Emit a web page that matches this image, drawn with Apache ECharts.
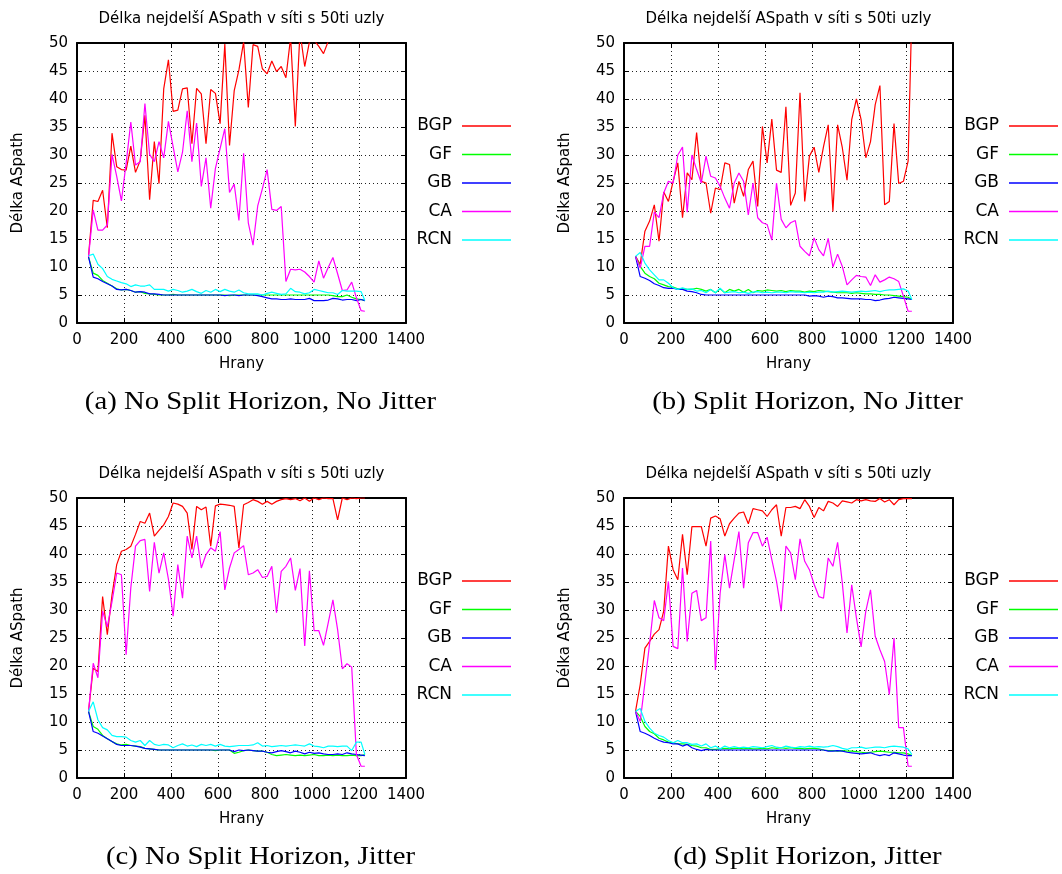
<!DOCTYPE html>
<html>
<head>
<meta charset="utf-8">
<title>Délka nejdelší ASpath</title>
<script src="https://cdn.jsdelivr.net/npm/echarts@6/dist/echarts.min.js"></script>
<style>
  html, body { margin: 0; padding: 0; background: #ffffff; }
  #chart { width: 1062px; height: 874px; }
</style>
</head>
<body>
<div id="chart"></div>
<script>
// Number of edges in the 50-node network (x values shared by every run)
const EDGES = [
  49, 69, 89, 109, 129, 149, 169, 189, 209, 229,
  249, 269, 289, 309, 329, 349, 369, 389, 409, 429,
  449, 469, 489, 509, 529, 549, 569, 589, 609, 629,
  649, 669, 689, 709, 729, 749, 769, 789, 809, 829,
  849, 869, 889, 909, 929, 949, 969, 989, 1009, 1029,
  1049, 1069, 1089, 1109, 1129, 1149, 1169, 1189, 1209, 1225
];

const SERIES_NAMES = ['BGP', 'GF', 'GB', 'CA', 'RCN'];
const SERIES_COLORS = ['#ff0000', '#00ff00', '#0000ff', '#ff00ff', '#00ffff'];

const CHART_TITLE = 'Délka nejdelší ASpath v síti s 50ti uzly';
const X_NAME = 'Hrany';
const Y_NAME = 'Délka ASpath';
const X_MIN = 0, X_MAX = 1400, X_STEP = 200;
const Y_MIN = 0, Y_MAX = 50, Y_STEP = 5;

const CAPTIONS = [
  '(a) No Split Horizon, No Jitter',
  '(b) Split Horizon, No Jitter',
  '(c) No Split Horizon, Jitter',
  '(d) Split Horizon, Jitter'
];

// (a) No Split Horizon, No Jitter
const aBGP = [
  11.9, 21.9, 21.7, 23.7, 17.0, 33.9, 27.9, 27.4, 27.3, 31.6,
  26.9, 29.0, 37.1, 22.0, 32.4, 24.9, 41.8, 47.0, 37.8, 38.0,
  41.8, 42.0, 32.0, 41.9, 40.9, 32.0, 41.7, 41.0, 35.6, 49.8,
  31.7, 41.5, 45.2, 50.2, 38.5, 49.7, 49.4, 45.4, 44.5, 46.8,
  44.9, 45.8, 43.8, 51.0, 35.1, 52.0, 45.8, 50.2, 50.5, 49.4,
  48.1, 50.3, 51.0, 52.0, 52.0, 53.0, 53.0, 54.0, 54.0, 55.0
];
const aGF = [
  11.8, 8.9, 8.5, 7.6, 7.1, 6.6, 6.1, 5.9, 6.0, 5.8,
  5.5, 5.6, 5.3, 5.2, 5.1, 5.0, 5.0, 5.0, 5.1, 5.0,
  5.0, 5.0, 5.0, 5.0, 5.0, 5.0, 5.0, 5.0, 5.0, 5.0,
  4.9, 5.0, 5.0, 5.0, 5.0, 5.0, 5.0, 5.0, 5.0, 5.0,
  5.0, 5.0, 5.0, 5.0, 5.0, 5.0, 5.0, 5.0, 5.0, 5.0,
  5.0, 5.0, 4.9, 4.7, 4.7, 5.0, 4.6, 4.3, 4.2, 4.0
];
const aGB = [
  11.8, 8.2, 7.9, 7.4, 7.0, 6.6, 6.0, 5.9, 6.0, 5.8,
  5.5, 5.6, 5.5, 5.2, 5.2, 5.1, 5.0, 5.0, 5.0, 5.0,
  5.0, 5.0, 5.0, 5.0, 5.0, 5.0, 5.0, 5.0, 5.0, 4.9,
  5.0, 5.0, 4.9, 5.0, 5.0, 5.0, 4.9, 4.7, 4.5, 4.3,
  4.3, 4.2, 4.2, 4.3, 4.2, 4.2, 4.2, 4.4, 4.0, 4.0,
  4.0, 4.1, 4.4, 4.3, 4.1, 4.2, 4.2, 4.0, 4.2, 4.0
];
const aCA = [
  11.8, 20.2, 16.6, 16.6, 17.5, 30.1, 26.2, 21.8, 28.5, 35.9,
  28.2, 28.8, 39.2, 30.1, 28.8, 32.4, 29.5, 36.0, 31.5, 27.0,
  30.5, 37.9, 28.8, 35.7, 24.4, 29.5, 20.5, 27.6, 31.2, 34.7,
  23.3, 24.8, 18.3, 30.3, 17.9, 13.9, 20.9, 24.0, 27.4, 20.3,
  20.1, 20.8, 7.4, 9.6, 9.5, 9.6, 9.1, 8.3, 7.3, 11.1,
  8.0, 9.9, 11.7, 8.8, 5.8, 5.9, 7.3, 4.5, 2.2, 2.1
];
const aRCN = [
  12.0, 12.3, 10.5, 9.7, 8.3, 7.8, 7.5, 7.2, 7.0, 6.5,
  6.8, 6.6, 6.6, 6.8, 6.0, 6.0, 6.0, 5.7, 6.0, 5.8,
  5.5, 5.7, 6.0, 5.6, 5.3, 5.8, 5.5, 6.0, 5.6, 6.0,
  5.7, 5.5, 5.9, 5.4, 5.2, 5.2, 5.2, 5.0, 5.3, 5.5,
  5.3, 5.1, 5.2, 6.2, 5.6, 5.5, 5.2, 5.4, 6.0, 5.8,
  5.6, 5.4, 5.4, 5.1, 5.8, 5.7, 5.7, 5.7, 5.6, 4.0
];

// (b) Split Horizon, No Jitter
const bBGP = [
  11.9, 10.5, 16.4, 18.2, 21.1, 14.6, 23.4, 21.7, 25.3, 28.6,
  18.8, 26.8, 25.6, 34.0, 25.3, 25.0, 19.6, 24.1, 23.8, 28.6,
  28.3, 21.4, 25.3, 22.6, 27.4, 28.9, 20.8, 35.1, 28.6, 36.4,
  27.3, 26.9, 38.6, 21.0, 23.2, 41.1, 21.7, 29.8, 31.4, 26.9,
  31.5, 35.4, 19.9, 35.4, 31.3, 25.5, 36.3, 40.0, 36.3, 29.5,
  32.4, 39.0, 42.4, 21.1, 21.7, 35.6, 24.9, 25.3, 28.9, 56.0
];
const bGF = [
  11.9, 10.1, 8.9, 8.3, 7.9, 7.1, 6.8, 6.5, 6.4, 6.1,
  6.1, 6.0, 6.0, 6.2, 6.0, 5.7, 6.0, 5.4, 6.1, 5.4,
  6.0, 5.7, 6.0, 5.5, 6.0, 5.4, 5.8, 5.7, 5.9, 5.8,
  5.7, 5.8, 5.6, 5.8, 5.7, 5.7, 5.5, 5.7, 5.6, 5.8,
  5.7, 5.6, 5.5, 5.4, 5.4, 5.4, 5.3, 5.4, 5.3, 5.2,
  5.2, 5.1, 5.1, 5.0, 5.0, 4.9, 4.8, 4.7, 4.6, 4.2
];
const bGB = [
  11.9, 8.3, 8.0, 7.6, 7.0, 6.7, 6.3, 6.2, 6.2, 6.0,
  6.0, 5.7, 5.6, 5.4, 5.1, 5.0, 5.0, 5.0, 5.0, 5.0,
  5.0, 5.0, 5.0, 5.0, 5.0, 5.0, 5.0, 5.0, 5.0, 5.0,
  5.0, 5.0, 5.0, 5.0, 5.0, 5.0, 5.0, 4.8, 4.9, 4.8,
  4.6, 4.8, 4.7, 4.5, 4.5, 4.4, 4.3, 4.3, 4.3, 4.2,
  4.2, 4.0, 4.1, 4.3, 4.4, 4.6, 4.5, 4.4, 4.3, 4.2
];
const bCA = [
  11.9, 9.8, 13.7, 13.7, 19.8, 18.8, 23.2, 25.3, 25.0, 30.0,
  31.4, 19.8, 30.0, 27.4, 25.0, 29.8, 26.2, 25.9, 24.4, 22.3,
  20.5, 25.0, 26.8, 25.3, 19.3, 25.0, 18.8, 17.9, 17.6, 14.8,
  25.0, 18.5, 17.0, 17.9, 18.3, 13.7, 12.8, 12.0, 15.2, 13.1,
  12.0, 15.1, 10.0, 12.3, 10.1, 6.8, 7.7, 8.5, 8.3, 8.2,
  6.7, 8.6, 7.3, 7.7, 8.2, 7.9, 7.4, 4.8, 2.1, 2.1
];
const bRCN = [
  11.9, 12.6, 10.7, 9.5, 8.6, 7.7, 7.7, 7.1, 6.3, 6.0,
  6.3, 6.0, 6.1, 5.7, 5.8, 5.4, 6.0, 5.4, 6.2, 5.4,
  5.5, 5.6, 5.4, 5.5, 5.3, 5.5, 5.6, 5.4, 5.5, 5.4,
  5.5, 5.5, 5.4, 5.6, 5.5, 5.5, 5.4, 5.5, 5.4, 5.5,
  5.5, 5.7, 5.5, 5.6, 5.7, 5.6, 5.5, 5.6, 5.7, 5.6,
  5.7, 5.8, 5.6, 5.8, 5.9, 5.9, 6.0, 6.1, 5.7, 4.2
];

// (c) No Split Horizon, Jitter
const cBGP = [
  11.9, 19.6, 19.0, 32.4, 25.6, 32.7, 38.1, 40.5, 40.8, 41.4,
  43.5, 45.8, 45.5, 47.3, 43.2, 44.2, 45.2, 46.7, 49.1, 48.9,
  48.5, 47.3, 40.8, 48.5, 47.9, 48.4, 41.4, 48.6, 48.9, 48.8,
  48.7, 48.5, 41.1, 48.8, 49.2, 49.7, 49.4, 48.9, 49.4, 48.9,
  49.4, 49.7, 49.9, 49.7, 49.9, 49.5, 50.0, 49.4, 50.0, 49.7,
  50.0, 49.9, 49.9, 46.1, 50.0, 49.7, 50.0, 49.9, 50.0, 50.0
];
const cGF = [
  11.9, 9.2, 8.7, 7.6, 7.0, 6.5, 6.1, 5.9, 6.0, 5.8,
  5.7, 5.6, 5.3, 5.2, 5.1, 5.0, 5.0, 5.0, 5.0, 5.0,
  5.0, 5.0, 5.0, 5.0, 5.0, 5.0, 5.0, 4.9, 5.0, 5.0,
  5.0, 4.4, 4.6, 4.9, 5.0, 4.9, 4.8, 4.8, 4.6, 4.2,
  4.0, 4.1, 4.2, 4.1, 4.0, 4.1, 4.0, 4.1, 4.2, 4.0,
  4.0, 4.1, 4.0, 4.1, 4.0, 4.0, 4.1, 4.0, 4.0, 4.2
];
const cGB = [
  11.9, 8.3, 8.0, 7.5, 7.0, 6.5, 6.0, 5.8, 5.8, 5.8,
  5.7, 5.5, 5.3, 5.2, 5.1, 5.0, 5.0, 5.0, 5.0, 5.0,
  5.0, 5.0, 5.0, 5.0, 5.0, 5.0, 5.0, 5.0, 5.0, 5.0,
  5.0, 4.7, 5.0, 4.9, 5.0, 4.9, 4.8, 4.8, 4.6, 4.5,
  4.7, 4.9, 4.7, 4.5, 4.8, 4.6, 4.3, 4.6, 4.4, 4.5,
  4.3, 4.2, 4.2, 4.3, 4.2, 4.5, 4.3, 4.2, 4.1, 4.0
];
const cCA = [
  11.9, 20.5, 17.9, 29.8, 27.0, 31.5, 36.6, 36.3, 22.0, 34.0,
  41.4, 42.4, 42.6, 33.3, 42.1, 36.6, 40.2, 35.5, 28.9, 38.1,
  32.1, 43.2, 39.3, 43.2, 37.5, 39.9, 41.1, 40.5, 44.0, 33.6,
  37.5, 40.2, 40.8, 41.5, 36.3, 36.6, 37.2, 35.8, 36.0, 37.8,
  29.5, 36.9, 37.8, 39.3, 33.5, 37.4, 23.6, 37.0, 26.3, 26.3,
  23.7, 27.7, 31.8, 26.5, 19.5, 20.4, 19.8, 4.2, 2.1, 2.1
];
const cRCN = [
  11.9, 13.6, 10.4, 9.0, 8.6, 7.6, 7.4, 7.4, 7.3, 6.7,
  6.4, 6.7, 5.8, 6.7, 6.0, 5.8, 6.0, 5.9, 5.4, 5.8,
  6.1, 5.7, 5.9, 5.6, 6.0, 5.8, 6.0, 5.7, 6.0, 5.7,
  5.6, 5.7, 5.8, 5.8, 5.8, 5.9, 6.3, 5.7, 5.8, 5.6,
  5.7, 5.8, 5.7, 5.8, 5.9, 5.8, 5.7, 6.1, 5.7, 5.6,
  5.4, 5.7, 5.7, 5.6, 5.7, 5.7, 4.9, 6.4, 6.4, 4.2
];

// (d) Split Horizon, Jitter
const dBGP = [
  11.9, 16.7, 23.2, 24.4, 25.7, 26.5, 29.8, 41.4, 37.2, 35.4,
  43.5, 36.3, 44.9, 44.9, 44.9, 41.4, 46.4, 46.8, 46.3, 43.2,
  45.4, 46.4, 47.3, 47.5, 45.4, 48.1, 47.9, 47.7, 46.7, 47.9,
  48.8, 43.2, 48.3, 48.3, 48.5, 48.1, 49.7, 48.5, 46.5, 48.3,
  47.7, 49.4, 49.1, 48.5, 49.5, 49.3, 49.1, 49.7, 49.5, 49.7,
  49.5, 49.4, 49.9, 49.3, 49.7, 48.8, 49.7, 49.9, 49.9, 49.9
];
const dGF = [
  11.9, 11.0, 9.2, 8.3, 7.9, 7.1, 6.8, 6.4, 6.3, 6.1,
  6.1, 6.0, 5.8, 5.7, 5.4, 5.4, 5.1, 5.1, 5.2, 5.3,
  5.2, 5.3, 5.3, 5.2, 5.3, 5.2, 5.2, 5.3, 5.2, 5.4,
  5.3, 5.4, 5.3, 5.4, 5.3, 5.3, 5.2, 5.3, 5.3, 5.2,
  5.0, 4.9, 4.9, 4.8, 4.9, 4.8, 4.8, 4.7, 4.6, 4.5,
  4.6, 4.7, 4.8, 4.7, 4.6, 4.6, 4.5, 4.5, 4.3, 4.0
];
const dGB = [
  11.9, 8.3, 8.0, 7.6, 7.1, 6.7, 6.4, 6.3, 6.1, 6.1,
  5.7, 6.0, 5.4, 5.1, 4.9, 5.1, 5.0, 5.0, 5.0, 5.0,
  5.0, 5.0, 5.0, 5.0, 5.0, 5.0, 5.0, 5.0, 5.0, 5.0,
  5.0, 5.0, 5.0, 5.0, 5.0, 5.0, 5.0, 5.0, 5.0, 5.0,
  5.0, 4.8, 4.8, 4.9, 4.8, 4.6, 4.5, 4.4, 4.3, 4.4,
  4.5, 4.2, 4.0, 4.2, 4.0, 4.5, 4.3, 4.1, 4.0, 4.0
];
const dCA = [
  11.9, 10.1, 17.0, 24.0, 31.7, 28.6, 28.1, 35.1, 23.5, 23.1,
  37.5, 24.4, 33.0, 33.5, 28.1, 28.6, 42.3, 19.3, 33.0, 39.9,
  33.9, 39.0, 44.0, 33.9, 42.0, 43.8, 43.8, 41.4, 43.0, 39.0,
  35.1, 29.8, 41.4, 40.2, 35.4, 42.7, 38.7, 37.2, 34.6, 32.4,
  32.1, 39.3, 37.8, 42.1, 34.8, 25.9, 34.5, 28.6, 23.4, 29.8,
  33.6, 25.3, 22.9, 20.8, 14.9, 25.0, 9.0, 9.0, 2.1, 2.1
];
const dRCN = [
  11.9, 12.4, 10.1, 8.9, 8.0, 7.6, 7.3, 6.7, 6.3, 6.7,
  6.3, 6.3, 6.0, 6.1, 5.7, 6.1, 5.4, 5.7, 5.2, 5.7,
  5.4, 5.6, 5.4, 5.5, 5.4, 5.6, 5.5, 5.4, 5.6, 5.8,
  5.5, 5.4, 5.7, 5.5, 5.4, 5.6, 5.5, 5.7, 5.5, 5.6,
  5.5, 5.6, 5.8, 5.6, 5.3, 5.1, 5.4, 5.4, 5.5, 5.3,
  5.4, 5.5, 5.5, 5.4, 5.6, 5.7, 5.6, 5.5, 5.2, 4.2
];

const PANEL_SERIES = [
  [aBGP, aGF, aGB, aCA, aRCN],
  [bBGP, bGF, bGB, bCA, bRCN],
  [cBGP, cGF, cGB, cCA, cRCN],
  [dBGP, dGF, dGB, dCA, dRCN]
];

// ---- layout of the 2x2 panel grid ----
const SANS = '"DejaVu Sans", sans-serif';
const SERIF = '"Liberation Serif", "Times New Roman", serif';
const FRAME_W = 329, FRAME_H = 280;
const FRAME_POS = [
  { left: 77, top: 43 },
  { left: 624, top: 43 },
  { left: 77, top: 498 },
  { left: 624, top: 498 }
];
const CAPTION_DX = 19;      // caption centre offset from frame centre
const CAPTION_DY = 359;     // caption centre below frame top
const LEGEND_DX = 105;      // legend line right end from frame right edge
const LEGEND_DY = 73;       // legend box top below frame top

const W = 1062;

const grids = [], xAxes = [], yAxes = [], series = [], titles = [], legends = [], graphics = [];

const axisLineStyle = { show: true, onZero: false, lineStyle: { color: '#000', width: 2 } };
const axisTickStyle = { show: true, inside: true, length: 5, lineStyle: { color: '#000', width: 1 } };
const gridLineStyle = { show: true, lineStyle: { color: '#222', width: 1, type: [1, 3] } };
const labelStyle = { fontFamily: SANS, fontSize: 15, color: '#000', formatter: (v) => String(v) };

FRAME_POS.forEach((p, k) => {
  grids.push({ left: p.left, top: p.top, width: FRAME_W, height: FRAME_H, containLabel: false });

  xAxes.push({
    gridIndex: k, type: 'value', position: 'bottom',
    min: X_MIN, max: X_MAX, interval: X_STEP,
    name: X_NAME, nameLocation: 'middle', nameGap: 34,
    nameTextStyle: { fontFamily: SANS, fontSize: 15, color: '#000' },
    axisLine: axisLineStyle, axisTick: axisTickStyle,
    axisLabel: Object.assign({ margin: 10 }, labelStyle),
    splitLine: gridLineStyle
  });
  xAxes.push({
    gridIndex: k, type: 'value', position: 'top',
    min: X_MIN, max: X_MAX, interval: X_STEP,
    axisLine: axisLineStyle, axisTick: axisTickStyle,
    axisLabel: { show: false }, splitLine: { show: false }
  });

  yAxes.push({
    gridIndex: k, type: 'value', position: 'left',
    min: Y_MIN, max: Y_MAX, interval: Y_STEP,
    name: Y_NAME, nameLocation: 'middle', nameGap: 51,
    nameTextStyle: { fontFamily: SANS, fontSize: 15, color: '#000' },
    axisLine: axisLineStyle, axisTick: axisTickStyle,
    axisLabel: Object.assign({ margin: 9 }, labelStyle),
    splitLine: gridLineStyle
  });
  yAxes.push({
    gridIndex: k, type: 'value', position: 'right',
    min: Y_MIN, max: Y_MAX, interval: Y_STEP,
    axisLine: axisLineStyle, axisTick: axisTickStyle,
    axisLabel: { show: false }, splitLine: { show: false }
  });

  titles.push({
    text: CHART_TITLE,
    left: p.left + FRAME_W / 2, top: p.top - 31,
    textAlign: 'center', padding: 0,
    textStyle: { fontFamily: SANS, fontSize: 15, fontWeight: 'normal', color: '#000' }
  });

  legends.push({
    data: SERIES_NAMES,
    orient: 'vertical', align: 'right',
    right: W - (p.left + FRAME_W + LEGEND_DX),
    top: p.top + LEGEND_DY,
    padding: 0, itemGap: 8.5,
    itemWidth: 49, itemHeight: 1.5, icon: 'rect',
    selectedMode: false,
    textStyle: { fontFamily: SANS, fontSize: 17, color: '#000', lineHeight: 20, padding: [0, 5, 0, 0] }
  });

  PANEL_SERIES[k].forEach((values, s) => {
    series.push({
      type: 'line', name: SERIES_NAMES[s],
      xAxisIndex: 2 * k, yAxisIndex: 2 * k,
      data: EDGES.map((x, i) => [x, values[i]]),
      showSymbol: false, symbol: 'none', clip: true,
      lineStyle: { color: SERIES_COLORS[s], width: 1.2 },
      itemStyle: { color: SERIES_COLORS[s] },
      emphasis: { disabled: true },
      animation: false
    });
  });

  graphics.push({
    type: 'text',
    x: p.left + FRAME_W / 2 + CAPTION_DX,
    y: p.top + CAPTION_DY,
    scaleX: 1.15,
    style: {
      text: CAPTIONS[k],
      fontFamily: SERIF, fontSize: 25, fill: '#000',
      align: 'center', verticalAlign: 'middle'
    }
  });
});

const chart = echarts.init(document.getElementById('chart'), null, { renderer: 'canvas' });
chart.setOption({
  backgroundColor: '#ffffff',
  animation: false,
  title: titles,
  legend: legends,
  grid: grids,
  xAxis: xAxes,
  yAxis: yAxes,
  series: series,
  graphic: graphics
});
</script>
</body>
</html>
